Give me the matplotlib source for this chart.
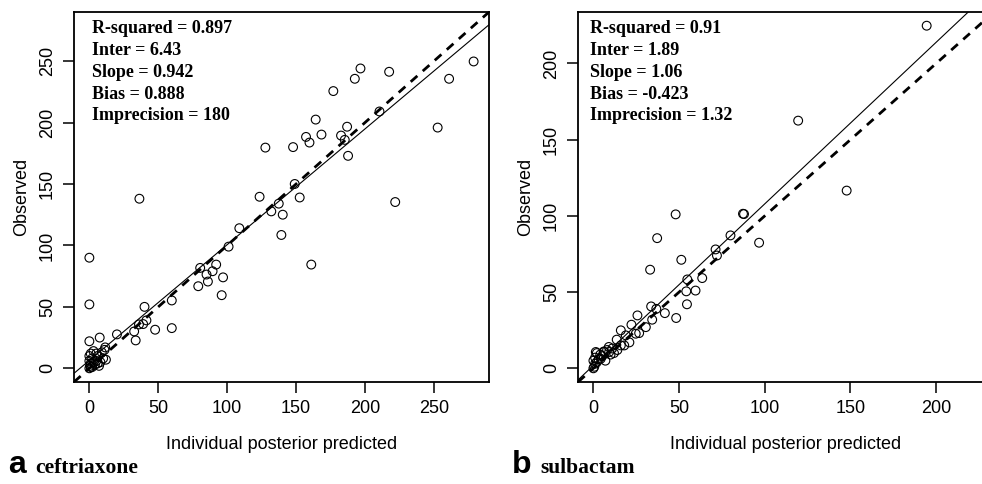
import numpy as np
import matplotlib.pyplot as plt

plt.rcParams['font.family'] = ['Liberation Sans', 'DejaVu Sans']

# ceftriaxone: individual posterior predicted vs observed
CEF_PRED = [0, 0.5, 1, 0, 2, 0, 1, 3, 4, 5, 6, 7, 8, 9, 10, 11.5, 11, 2, 3, 5, 1, 6, 12,
            0, 0, 0, 7.5, 20, 32.5, 33.6, 36, 39, 41.4, 40, 36.3, 47.7, 59.8, 59.8,
            79, 80.4, 85, 86, 89.4, 92, 97, 96, 101, 108.8, 123.5, 127.7, 132, 137.4,
            140.3, 139.3, 147.8, 149, 152.6, 157.2, 159.7, 161, 164.2, 168.4, 177,
            182.6, 185.3, 187, 187.7, 192.6, 196.7, 210.5, 217.5, 221.9, 252.7, 261,
            278.8]
CEF_OBS = [0, 2, 4, 6, 8, 10, 12, 14, 3, 6, 10, 2, 5, 13, 8, 17, 15, 1, 5, 12, 1, 4, 7,
           22, 52, 90, 25, 27.6, 30, 22.7, 35.7, 36, 39, 50, 138, 31.4, 55.2, 32.7,
           66.8, 81.7, 76.3, 70.6, 79, 84.4, 74, 59.5, 99, 114, 139.6, 179.6, 127.7, 134,
           125, 108.5, 180, 150, 139, 188.3, 183.7, 84.4, 202.4, 190.2, 225.6,
           189.4, 185.9, 196.6, 172.9, 235.6, 244, 209, 241.3, 135.3, 195.9, 235.6,
           249.7]
CEF_INTER, CEF_SLOPE = 6.43, 0.942
CEF_STATS = ["R-squared = 0.897", "Inter = 6.43", "Slope = 0.942",
             "Bias = 0.888", "Imprecision = 180"]

# sulbactam
SUL_PRED = [0, 0.5, 1, 0, 2, 1, 3, 4, 2, 5, 6, 7, 8, 10, 9, 11, 12, 13.6, 14, 16, 18,
            18.9, 16, 21, 24.7, 1.4, 4.3, 6.2, 9.2,
            22.2, 25.7, 26.7, 30.6, 33.7, 36.7, 34.3, 41.7, 48.3, 33.1, 37.2, 48, 51.3,
            54.6, 54.2, 59.6, 54.8, 63.5, 71.3, 72.1, 80, 87.3, 87.9, 96.7, 119.5,
            147.8, 194.5]
SUL_OBS = [0, 1, 3, 5, 4, 7, 6, 9, 10, 8, 11, 5, 12, 9, 14, 13, 10, 18.8, 12, 15, 15,
           21.6, 24.9, 17, 22.7, 10.7, 6.3, 10.7, 10.7,
           28.6, 34.7, 23.1, 27, 40.6, 39, 31.9, 36.2, 33, 64.7, 85.4, 101, 71.2,
           42, 50.5, 51, 58.3, 59.2, 78, 74, 87.2, 101.4, 101.2, 82.4, 162.5,
           116.6, 224.8]
SUL_INTER, SUL_SLOPE = 1.89, 1.06
SUL_STATS = ["R-squared = 0.91", "Inter = 1.89", "Slope = 1.06",
             "Bias = -0.423", "Imprecision = 1.32"]

W, H = 982, 484
fig = plt.figure(figsize=(W / 100, H / 100), dpi=100)


def add_ax(x0, y0, x1, y1):
    # pixel box -> figure fraction
    return fig.add_axes([x0 / W, 1 - y1 / H, (x1 - x0) / W, (y1 - y0) / H])


def panel(ax, pred, obs, inter, slope, stats, ticks, letter, drug, text_x, letter_x, drug_x):
    pred = np.asarray(pred)
    obs = np.asarray(obs)
    lo = min(pred.min(), obs.min())
    hi = max(pred.max(), obs.max())
    pad = 0.04 * (hi - lo)
    lim = (lo - pad, hi + pad)
    ax.set_xlim(lim)
    ax.set_ylim(lim)

    xx = np.array([lim[0], lim[1] + 20])
    ax.plot(xx, inter + slope * xx, color="black", lw=0.8)
    ax.plot(xx, xx, color="black", lw=2.0, ls=(0, (3.2, 2.6)))
    ax.scatter(pred, obs, s=40, facecolors="none", edgecolors="black",
               linewidths=0.8, zorder=3)

    ax.set_xticks(ticks)
    ax.set_yticks(ticks)
    ax.tick_params(length=8, width=1.1, labelsize=13, color="black")
    ax.tick_params(axis="x", pad=5)
    ax.tick_params(axis="y", pad=5, labelrotation=90)
    for lab in ax.get_yticklabels():
        lab.set_va("center")
    for sp in ax.spines.values():
        sp.set_linewidth(1.3)

    ax.set_xlabel("Individual posterior predicted", fontsize=13, labelpad=13.5)
    ax.set_ylabel("Observed", fontsize=13, labelpad=6)

    for i, s in enumerate(stats):
        fig.text(text_x / W, 1 - (33.3 + 21.8 * i) / H, s, family="Liberation Serif",
                 weight="bold", fontsize=13, va="baseline")

    fig.text(letter_x / W, 1 - 473 / H, letter, fontsize=23, weight="bold", va="baseline")
    fig.text(drug_x / W, 1 - 473 / H, drug, family="Liberation Serif", weight="bold",
             fontsize=15.5, va="baseline")


ax1 = add_ax(74, 12, 489, 382)
panel(ax1, CEF_PRED, CEF_OBS, CEF_INTER, CEF_SLOPE, CEF_STATS,
      [0, 50, 100, 150, 200, 250], "a", "ceftriaxone", 92, 8, 35)

ax2 = add_ax(578, 12, 994, 382)
panel(ax2, SUL_PRED, SUL_OBS, SUL_INTER, SUL_SLOPE, SUL_STATS,
      [0, 50, 100, 150, 200], "b", "sulbactam", 590, 512, 540)

fig.savefig("out.png", dpi=100)
